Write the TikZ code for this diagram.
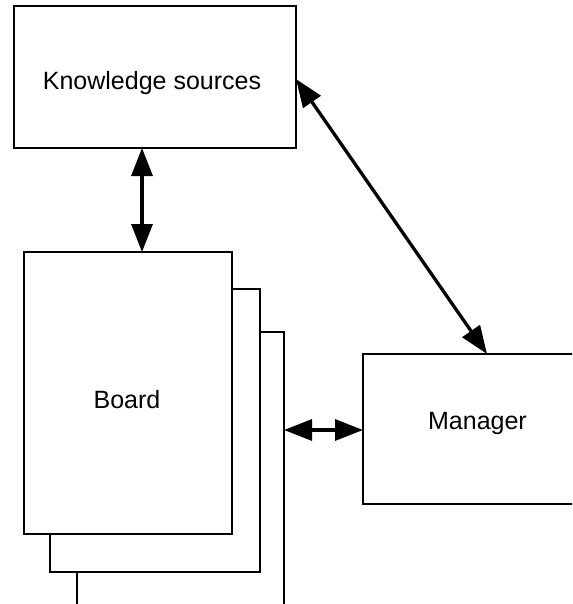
\documentclass[tikz,border=0pt]{standalone}
\usepackage{fontspec}
\setmainfont{Liberation Sans}
\usetikzlibrary{arrows.meta}
\tikzset{
  box/.style={draw, line width=2.8pt, fill=white, rectangle, inner sep=0pt, outer sep=0pt},
  lbl/.style={inner sep=0pt, font=\fontsize{25}{30}\selectfont},
  arr/.style={line width=3.3pt,
    {Triangle[length=28pt,width=21pt]}-{Triangle[length=28pt,width=21pt]}}
}
\begin{document}
\begin{tikzpicture}[x=1pt,y=-1pt]
  \useasboundingbox (0,0) rectangle (572,604);
  \clip (0,0) rectangle (572,604);

  % knowledge sources
  \node[box, minimum width=282pt, minimum height=142pt] (ks) at (155,77) {};
  \node[lbl] (kst) at (152,83) {Knowledge sources};

  % stack of boards, back to front
  \node[box, minimum width=207pt, minimum height=283pt] (b3) at (180.5,473.5) {};
  \node[box, minimum width=210pt, minimum height=283pt] (b2) at (155,430.5) {};
  \node[box, minimum width=208pt, minimum height=282pt] (b1) at (128,393) {};
  \node[lbl] (bt) at (127,400) {Board};

  % manager
  \node[box, minimum width=229pt, minimum height=150pt] (mgr) at (477.5,429) {};
  \node[lbl] (mt) at (477.5,423) {Manager};

  % connectors
  \draw[arr] (ks.south -| 142,0) -- (b1.north -| 142,0);
  \draw[arr] (ks.east |- 0,79) -- (mgr.north -| 487,0);
  \draw[arr] (b3.east |- 0,430) -- (mgr.west |- 0,430);
\end{tikzpicture}
\end{document}
